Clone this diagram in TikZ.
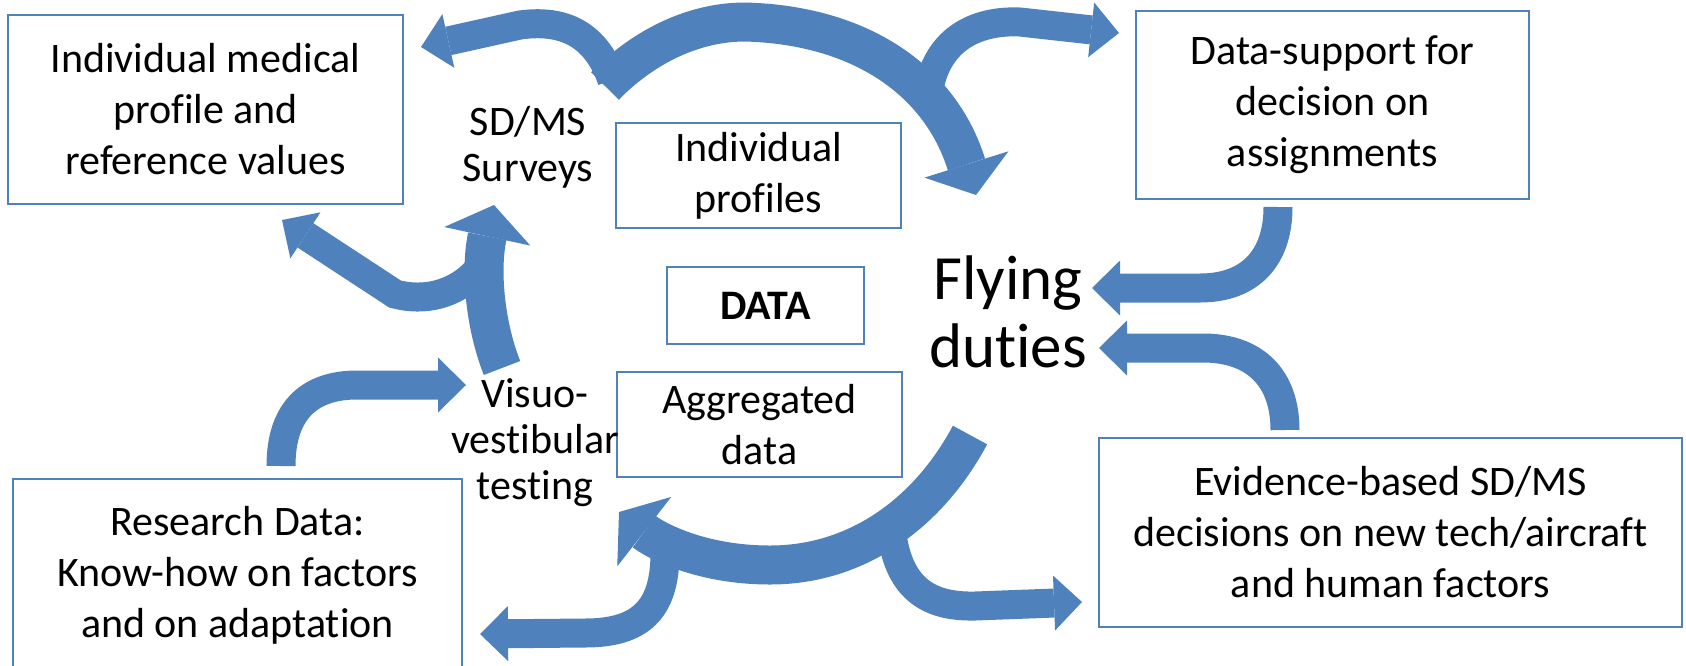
\documentclass[tikz,border=0pt]{standalone}
\usepackage{fontspec}
\setmainfont{Carlito}[Ligatures=NoCommon]
\usetikzlibrary{arrows.meta}
\definecolor{officeblue}{RGB}{79,129,189}
\begin{document}
\begin{tikzpicture}[x=0.5pt,y=-0.5pt,
  box/.style={draw=officeblue, line width=1pt, inner sep=0pt, align=center,
    font=\fontsize{21}{25.5}\selectfont},
  lbl/.style={align=center, inner sep=0pt, font=\fontsize{21}{23}\selectfont},
  thinarrow/.style={draw=officeblue, line width=14.5pt,
    -{Triangle[length=14pt,width=27.5pt,line width=0pt]}},
  thickarrow/.style={draw=officeblue, line width=19.5pt,
    -{Triangle[length=16pt,width=44pt,line width=0pt]}}]
\useasboundingbox (0,0) rectangle (1686,665);

% boxes (sizes in pt, positions in px units)
\node[box, minimum width=197.5pt, minimum height=94.5pt] (med) at (205.5,109.5)
  {Individual medical\\profile and\\reference values};
\node[box, minimum width=142.5pt, minimum height=52.5pt] (indiv) at (758.5,175.5)
  {Individual\\profiles};
\node[box, minimum width=98.5pt, minimum height=38.5pt,
  font=\fontsize{21}{25.5}\selectfont\bfseries] (data) at (765.5,305.5) {DATA};
\node[box, minimum width=142.5pt, minimum height=52.5pt] (aggr) at (759.5,424.5)
  {Aggregated\\data};
\node[box, minimum width=196.5pt, minimum height=94pt] (support) at (1332.5,105)
  {Data-support for\\decision on\\assignments};
\node[box, minimum width=291.5pt, minimum height=94.5pt] (evid) at (1390.5,532.5)
  {Evidence-based SD/MS\\decisions on new tech/aircraft\\and human factors};
\node[box, minimum width=224.5pt, minimum height=96pt] (research) at (237.5,575)
  {Research Data:\\Know-how on factors\\and on adaptation};

% free labels
\node[lbl] (surveys) at (528,147) {SD/MS\\Surveys};
\node[lbl] (visuo) at (535,443) {Visuo-\\vestibular\\testing};
\node[lbl, font=\fontsize{31.5}{34}\selectfont] (flying) at (1008,312) {Flying\\duties};

% arrow end points
\coordinate (topS) at (605,86);   \coordinate (topE) at (976,195);
\coordinate (tlS) at (612,80);    \coordinate (tlE) at (421,47);
\coordinate (trS) at (928,95);    \coordinate (trE) at (1119,33);
\coordinate (dsS) at (1278,207);  \coordinate (dsE) at (1092,288);
\coordinate (evS) at (1285,430);  \coordinate (evE) at (1099,348);
\coordinate (botS) at (970,435);  \coordinate (botE) at (619,512);
\coordinate (blS) at (665,553);   \coordinate (blE) at (480,634);
\coordinate (brS) at (892,535);   \coordinate (brE) at (1082,602);
\coordinate (upS) at (502,368);   \coordinate (upE) at (494,205);
\coordinate (toMedS) at (476,272);\coordinate (toMedE) at (282,220);
\coordinate (resS) at (281,466);  \coordinate (resE) at (466,385);

% big arcs
\draw[thickarrow] (topS) .. controls (640,50) and (690,22) .. (745,22)
  .. controls (860,25) and (940,80) .. (topE);
\draw[thickarrow] (botS) .. controls (930,510) and (860,565) .. (770,565)
  .. controls (700,565) and (655,540) .. (botE);
\draw[thickarrow] (upS) .. controls (485,325) and (480,270) .. (upE);

% branches
\draw[thinarrow] (tlS) .. controls (598,40) and (570,18) .. (520,25) -- (tlE);
\draw[thinarrow] (trS) .. controls (935,40) and (975,20) .. (1020,22) -- (trE);
\draw[thinarrow] (dsS) .. controls (1278,258) and (1250,288) .. (1200,288) -- (dsE);
\draw[thinarrow] (evS) .. controls (1285,378) and (1255,348) .. (1203,348) -- (evE);
\draw[thinarrow] (blS) .. controls (665,610) and (640,633) .. (585,633) -- (blE);
\draw[thinarrow] (brS) .. controls (900,590) and (930,607) .. (975,606) -- (brE);
\draw[thinarrow] (toMedS) .. controls (455,294) and (425,302) .. (395,294) -- (toMedE);
\draw[thinarrow] (resS) .. controls (281,410) and (310,385) .. (357,385) -- (resE);
\end{tikzpicture}
\end{document}
